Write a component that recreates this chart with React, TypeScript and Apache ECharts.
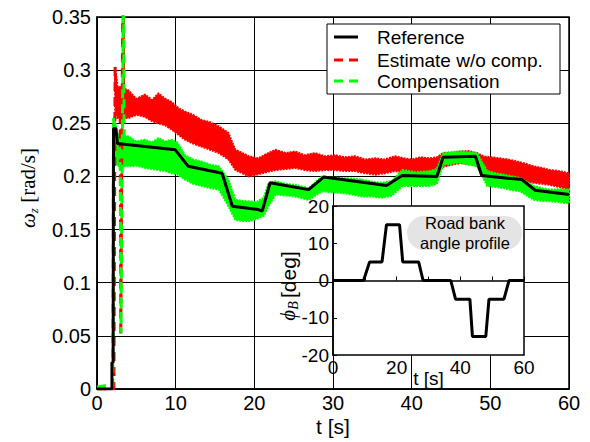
import React, { useEffect, useRef } from "react";
import * as echarts from "echarts";

// Reference yaw rate (solid black)
const refT = [0, 1.9, 1.9, 2.05, 2.1, 2.4, 2.6, 9.95, 11.6, 15.9, 17.2, 20.5, 21.0, 22.0, 26.9, 28.8, 36.8, 38.8, 43.2, 44.0, 48.1, 48.9, 54.0, 55.7, 60];
const refV = [0, 0, 0.025, 0.025, 0.245, 0.245, 0.231, 0.225, 0.2095, 0.203, 0.172, 0.1688, 0.1673, 0.194, 0.1876, 0.1994, 0.1914, 0.2008, 0.2, 0.218, 0.219, 0.2008, 0.197, 0.187, 0.183];

// Estimate without compensation: start-up transient and noise envelope
const estT = [0, 2.15, 2.3, 2.5, 2.95, 3.02, 3.3, 3.4];
const estV = [0, 0, 0.303, 0.27, 0.27, 0.05, 0.4, 0.27];
const estBandT = [2.3, 2.6, 4.0, 5.0, 6.1, 7.0, 7.8, 8.7, 9.5, 10.4, 11.2, 12.2, 13.3, 14.4, 15.5, 16.7, 17.6, 18.5, 19.3, 20.5, 21.5, 22.7, 24.0, 25.2, 26.4, 27.7, 29.0, 30.3, 31.5, 32.8, 34.1, 35.4, 36.6, 37.9, 39.0, 40.0, 41.2, 42.3, 43.2, 44.0, 45.1, 46.2, 47.2, 48.3, 49.1, 50.2, 51.2, 52.3, 53.4, 54.5, 55.5, 56.6, 57.6, 58.8, 60];
const estHi = [0.303, 0.285, 0.281, 0.273, 0.277, 0.272, 0.278, 0.273, 0.27, 0.264, 0.261, 0.258, 0.253, 0.251, 0.247, 0.241, 0.225, 0.222, 0.219, 0.217, 0.221, 0.225, 0.222, 0.2235, 0.22, 0.222, 0.219, 0.22, 0.218, 0.219, 0.216, 0.217, 0.216, 0.219, 0.217, 0.216, 0.218, 0.217, 0.218, 0.222, 0.222, 0.2235, 0.224, 0.222, 0.219, 0.218, 0.217, 0.216, 0.214, 0.212, 0.2095, 0.208, 0.206, 0.205, 0.203];
const estLo = [0.26, 0.255, 0.255, 0.258, 0.256, 0.252, 0.25, 0.248, 0.244, 0.239, 0.2345, 0.231, 0.228, 0.225, 0.222, 0.216, 0.206, 0.203, 0.2, 0.202, 0.204, 0.206, 0.207, 0.208, 0.206, 0.205, 0.206, 0.206, 0.205, 0.205, 0.203, 0.2017, 0.203, 0.205, 0.204, 0.203, 0.204, 0.205, 0.206, 0.209, 0.211, 0.2126, 0.212, 0.21, 0.2017, 0.201, 0.2, 0.198, 0.197, 0.195, 0.194, 0.193, 0.192, 0.19, 0.1876];

// Compensated estimate: start-up transient and noise envelope
const compT = [0, 1.0, 2.0, 2.1, 2.3, 2.95, 3.05, 3.38, 3.45];
const compV = [0.002, 0.003, 0.002, 0.255, 0.235, 0.225, 0.053, 0.4, 0.23];
const compBandT = [2.2, 2.6, 4.0, 5.0, 6.1, 7.0, 7.8, 8.7, 9.5, 10.2, 11.2, 12.2, 13.3, 14.4, 15.5, 16.7, 17.6, 18.5, 19.3, 20.3, 21.2, 21.8, 22.7, 24.0, 25.2, 26.9, 28.6, 29.8, 31.1, 32.4, 33.7, 35.0, 36.2, 37.5, 38.8, 40.5, 42.3, 43.2, 44.0, 45.1, 46.2, 47.2, 48.3, 49.6, 50.7, 51.7, 52.8, 53.8, 55.5, 56.6, 57.6, 58.6, 59.6, 60];
const compHi = [0.256, 0.24, 0.2376, 0.233, 0.2345, 0.232, 0.236, 0.233, 0.2345, 0.232, 0.22, 0.216, 0.214, 0.211, 0.2095, 0.197, 0.178, 0.177, 0.1766, 0.176, 0.18, 0.194, 0.1954, 0.193, 0.192, 0.189, 0.2, 0.199, 0.1985, 0.198, 0.197, 0.195, 0.194, 0.196, 0.206, 0.204, 0.205, 0.207, 0.222, 0.223, 0.2235, 0.223, 0.222, 0.205, 0.203, 0.2017, 0.2, 0.1985, 0.191, 0.189, 0.1876, 0.188, 0.1876, 0.188];
const compLo = [0.215, 0.21, 0.2095, 0.21, 0.208, 0.207, 0.206, 0.205, 0.203, 0.202, 0.197, 0.193, 0.191, 0.189, 0.1876, 0.172, 0.159, 0.158, 0.158, 0.16, 0.163, 0.172, 0.183, 0.182, 0.181, 0.178, 0.186, 0.185, 0.1845, 0.183, 0.181, 0.181, 0.18, 0.182, 0.191, 0.191, 0.191, 0.193, 0.211, 0.212, 0.2126, 0.211, 0.21, 0.191, 0.19, 0.189, 0.187, 0.186, 0.178, 0.177, 0.1766, 0.176, 0.175, 0.175];

// Road bank angle profile (inset)
const bankT = [0, 9.6, 11.5, 15.4, 16.8, 20.9, 21.9, 26.9, 28.3, 37, 38.5, 43, 43.8, 48, 49, 53.7, 55.3, 60];
const bankV = [0, 0, 5, 5, 15, 15, 5, 5, 0, 0, -5, -5, -15, -15, -5, -5, 0, 0];

// Legend entries
const legendNames = ["Reference", "Estimate w/o comp.", "Compensation"];
const legendColors = ["#000000", "#ff0000", "#00ff00"];
const legendDashed = [false, true, true];

const SANS = "'Liberation Sans', Arial, sans-serif";
const SERIF = "'Liberation Serif', 'Times New Roman', serif";

const pairs = (t: number[], v: number[]) => t.map((x, i) => [x, v[i]]);

function band(name: string, t: number[], hi: number[], lo: number[], color: string, z: number) {
  return {
    type: "custom",
    name,
    xAxisIndex: 0,
    yAxisIndex: 0,
    z,
    silent: true,
    data: [[t[0], hi[0]]],
    renderItem: (_p: any, api: any) => {
      const pts: number[][] = [];
      for (let i = 0; i < t.length; i++) pts.push(api.coord([t[i], hi[i]]));
      for (let i = t.length - 1; i >= 0; i--) pts.push(api.coord([t[i], lo[i]]));
      return {
        type: "polygon",
        shape: { points: pts },
        style: { fill: color, stroke: color, lineWidth: 2, lineDash: [2, 1] },
      };
    },
  };
}

// Boxed legend at the top right of the plot area
function legendGraphics() {
  const left = 327;
  const top = 24;
  const rowY = [37, 60, 81];
  const els: any[] = [
    {
      type: "rect",
      z: 40,
      shape: { x: left, y: top, width: 233, height: 70 },
      style: { fill: "#fff", stroke: "#000", lineWidth: 1 },
    },
  ];
  legendNames.forEach((name, i) => {
    els.push({
      type: "line",
      z: 41,
      shape: { x1: 334, y1: rowY[i], x2: 358, y2: rowY[i] },
      style: {
        stroke: legendColors[i],
        lineWidth: 3,
        lineDash: legendDashed[i] ? [9, 6] : null,
      },
    });
    els.push({
      type: "text",
      z: 41,
      x: 377,
      y: rowY[i],
      style: { text: name, fill: "#000", font: `19px ${SANS}`, verticalAlign: "middle" },
    });
  });
  return els;
}

// Vertical axis titles with italic Greek symbols and subscripts
function yTitles() {
  return [
    {
      type: "text",
      z: 41,
      x: 28,
      y: 188,
      rotation: Math.PI / 2,
      style: {
        text: "{w|ω}{s|z}{u| [rad/s]}",
        align: "center",
        verticalAlign: "middle",
        fill: "#000",
        rich: {
          w: { fontFamily: SERIF, fontStyle: "italic", fontSize: 21, fill: "#000", lineHeight: 24 },
          s: { fontFamily: SERIF, fontStyle: "italic", fontSize: 13, fill: "#000", verticalAlign: "bottom", lineHeight: 24 },
          u: { fontFamily: SERIF, fontSize: 21, fill: "#000", lineHeight: 24 },
        },
      },
    },
    {
      type: "text",
      z: 41,
      x: 288,
      y: 286,
      rotation: Math.PI / 2,
      style: {
        text: "{p|ϕ}{s|B} {u|[deg]}",
        align: "center",
        verticalAlign: "middle",
        fill: "#000",
        rich: {
          p: { fontFamily: SERIF, fontStyle: "italic", fontSize: 21, fill: "#000", lineHeight: 24 },
          s: { fontFamily: SERIF, fontStyle: "italic", fontSize: 14, fill: "#000", verticalAlign: "bottom", lineHeight: 24 },
          u: { fontFamily: SANS, fontSize: 21, fill: "#000", lineHeight: 24 },
        },
      },
    },
  ];
}

export default function App() {
  const ref = useRef<HTMLDivElement>(null);

  useEffect(() => {
    document.body.style.margin = "0";
    const chart = echarts.init(ref.current!, null, { renderer: "svg" });
    const axisCommon = {
      axisLine: { show: true, lineStyle: { color: "#000", width: 1.5 } },
      axisTick: { show: false },
      splitLine: { show: true, lineStyle: { color: "#000", width: 1 } },
      axisLabel: { color: "#000", fontSize: 20, fontFamily: SANS },
    };
    chart.setOption({
      animation: false,
      backgroundColor: "#fff",
      grid: [
        { left: 97, top: 17, width: 472, height: 373, show: true, borderColor: "#000", borderWidth: 1.5, backgroundColor: "transparent" },
        { left: 333, top: 206, width: 191, height: 149, show: true, borderColor: "#000", borderWidth: 1.5, backgroundColor: "#fff", z: 10 },
      ],
      xAxis: [
        {
          ...axisCommon,
          type: "value",
          gridIndex: 0,
          min: 0,
          max: 60,
          interval: 10,
          axisLabel: { ...axisCommon.axisLabel, margin: 4 },
          name: "t [s]",
          nameLocation: "middle",
          nameGap: 27,
          nameMoveOverlap: false,
          nameTextStyle: { color: "#000", fontSize: 21, fontFamily: SANS, verticalAlign: "top" },
        },
        {
          type: "value",
          gridIndex: 1,
          z: 11,
          min: 0,
          max: 60,
          interval: 10,
          axisLine: { show: true, lineStyle: { color: "#000", width: 1.5 } },
          axisTick: { show: true, inside: true, length: 4, lineStyle: { color: "#000" } },
          splitLine: { show: false },
          axisLabel: {
            color: "#000",
            fontSize: 19,
            fontFamily: SANS,
            margin: 3,
            formatter: (v: number) => (v % 20 === 0 ? String(v) : ""),
          },
          name: "t [s]",
          nameLocation: "middle",
          nameGap: 14,
          nameMoveOverlap: false,
          nameTextStyle: { color: "#000", fontSize: 19, fontFamily: SANS, verticalAlign: "top" },
        },
      ],
      yAxis: [
        {
          ...axisCommon,
          type: "value",
          gridIndex: 0,
          min: 0,
          max: 0.35,
          interval: 0.05,
          axisLabel: { ...axisCommon.axisLabel, margin: 6 },
        },
        {
          type: "value",
          gridIndex: 1,
          z: 11,
          min: -20,
          max: 20,
          interval: 10,
          axisLine: { show: true, lineStyle: { color: "#000", width: 1.5 } },
          axisTick: { show: true, inside: true, length: 4, lineStyle: { color: "#000" } },
          splitLine: { show: false },
          axisLabel: { color: "#000", fontSize: 19, fontFamily: SANS, margin: 4 },
        },
      ],
      graphic: [
        ...legendGraphics(),
        ...yTitles(),
        {
          type: "rect",
          z: 30,
          shape: { x: 407, y: 216, width: 115, height: 34, r: 17 },
          style: { fill: "#e4e4e4" },
        },
        {
          type: "text",
          z: 31,
          x: 465,
          y: 233,
          style: {
            text: "Road bank\nangle profile",
            fill: "#000",
            font: `16.5px ${SANS}`,
            align: "center",
            verticalAlign: "middle",
            lineHeight: 20,
          },
        },
      ],
      series: [
        band("estimateBand", estBandT, estHi, estLo, "#ff0000", 2),
        band("compensationBand", compBandT, compHi, compLo, "#00ff00", 3),
        {
          type: "line",
          name: "Estimate w/o comp.",
          xAxisIndex: 0,
          yAxisIndex: 0,
          z: 4,
          data: pairs(estT, estV),
          symbol: "none",
          color: "#ff0000",
          lineStyle: { color: "#ff0000", width: 3, type: [9, 6] },
        },
        {
          type: "line",
          name: "Compensation",
          xAxisIndex: 0,
          yAxisIndex: 0,
          z: 5,
          data: pairs(compT, compV),
          symbol: "none",
          color: "#00ff00",
          lineStyle: { color: "#00ff00", width: 3, type: [9, 6] },
        },
        {
          type: "line",
          name: "Reference",
          xAxisIndex: 0,
          yAxisIndex: 0,
          z: 6,
          data: pairs(refT, refV),
          symbol: "none",
          color: "#000",
          lineStyle: { color: "#000", width: 3 },
        },
        {
          type: "line",
          name: "bank",
          xAxisIndex: 1,
          yAxisIndex: 1,
          z: 12,
          data: pairs(bankT, bankV),
          symbol: "none",
          color: "#000",
          lineStyle: { color: "#000", width: 3 },
        },
      ],
    });
    return () => chart.dispose();
  }, []);

  return <div ref={ref} style={{ width: 590, height: 442 }} />;
}
